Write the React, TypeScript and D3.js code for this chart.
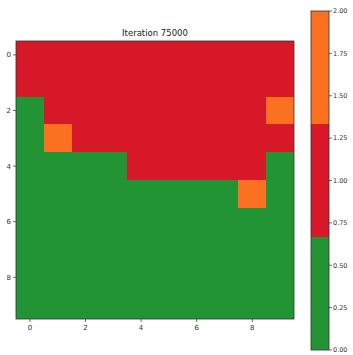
import React from 'react';
import * as d3 from 'd3';

// 0 = green, 1 = red, 2 = orange
const grid: number[][] = [
  [1, 1, 1, 1, 1, 1, 1, 1, 1, 1],
  [1, 1, 1, 1, 1, 1, 1, 1, 1, 1],
  [0, 1, 1, 1, 1, 1, 1, 1, 1, 2],
  [0, 2, 1, 1, 1, 1, 1, 1, 1, 1],
  [0, 0, 0, 0, 1, 1, 1, 1, 1, 0],
  [0, 0, 0, 0, 0, 0, 0, 0, 2, 0],
  [0, 0, 0, 0, 0, 0, 0, 0, 0, 0],
  [0, 0, 0, 0, 0, 0, 0, 0, 0, 0],
  [0, 0, 0, 0, 0, 0, 0, 0, 0, 0],
  [0, 0, 0, 0, 0, 0, 0, 0, 0, 0],
];
const palette = ['#229434', '#d61828', '#fc7022'];
const axisTicks = [0, 2, 4, 6, 8];
const cbTicks = [0, 0.25, 0.5, 0.75, 1, 1.25, 1.5, 1.75, 2];
const title = 'Iteration 75000';

const W = 353;
const H = 355;
const plot = { left: 16, top: 41, size: 278 };
const cb = { left: 311, top: 11, width: 18, bottom: 350 };

const App = () => {
  const x = d3.scaleLinear().domain([-0.5, 9.5]).range([plot.left, plot.left + plot.size]);
  const y = d3.scaleLinear().domain([-0.5, 9.5]).range([plot.top, plot.top + plot.size]);
  const color = d3.scaleQuantize<string>().domain([0, 2]).range(palette);
  const cbY = d3.scaleLinear().domain([0, 2]).range([cb.bottom, cb.top]);
  const cbBands = palette.map((c, i) => ({ c, lo: (i * 2) / 3, hi: ((i + 1) * 2) / 3 }));
  const font = 'DejaVu Sans, sans-serif';
  const tc = '#333';

  return (
    <svg width={W} height={H} style={{ position: 'absolute', left: 0, top: 0, background: '#fff' }}>
      <text x={x(4.5)} y={36} textAnchor="middle" fontFamily={font} fontSize={8.5} fill="#222">
        {title}
      </text>
      <g shapeRendering="crispEdges">
        {grid.map((row, r) =>
          row.map((v, c) => (
            <rect
              key={`${r}-${c}`}
              x={Math.round(x(c - 0.5))}
              y={Math.round(y(r - 0.5))}
              width={Math.round(x(c + 0.5)) - Math.round(x(c - 0.5))}
              height={Math.round(y(r + 0.5)) - Math.round(y(r - 0.5))}
              fill={color(v)}
            />
          ))
        )}
      </g>
      <rect x={plot.left} y={plot.top} width={plot.size} height={plot.size} fill="none" stroke={tc} strokeWidth={0.8} />
      {axisTicks.map((t) => (
        <g key={`y${t}`}>
          <line x1={plot.left} x2={plot.left - 3} y1={y(t)} y2={y(t)} stroke={tc} strokeWidth={0.7} />
          <text x={plot.left - 5} y={y(t)} dy="0.35em" textAnchor="end" fontFamily={font} fontSize={7} fill={tc}>
            {t}
          </text>
        </g>
      ))}
      {axisTicks.map((t) => (
        <g key={`x${t}`}>
          <line x1={x(t)} x2={x(t)} y1={plot.top + plot.size} y2={plot.top + plot.size + 3} stroke={tc} strokeWidth={0.7} />
          <text x={x(t)} y={plot.top + plot.size + 11} textAnchor="middle" fontFamily={font} fontSize={7} fill={tc}>
            {t}
          </text>
        </g>
      ))}
      <g shapeRendering="crispEdges">
        {cbBands.map((b) => (
          <rect
            key={b.c}
            x={cb.left}
            y={Math.round(cbY(b.hi))}
            width={cb.width}
            height={Math.round(cbY(b.lo)) - Math.round(cbY(b.hi))}
            fill={b.c}
          />
        ))}
      </g>
      <rect x={cb.left} y={cb.top} width={cb.width} height={cb.bottom - cb.top} fill="none" stroke={tc} strokeWidth={0.8} />
      {cbTicks.map((t) => (
        <g key={`c${t}`}>
          <line x1={cb.left + cb.width} x2={cb.left + cb.width + 3} y1={cbY(t)} y2={cbY(t)} stroke={tc} strokeWidth={0.7} />
          <text x={cb.left + cb.width + 4} y={cbY(t)} dy="0.35em" fontFamily={font} fontSize={6.5} fill={tc}>
            {t.toFixed(2)}
          </text>
        </g>
      ))}
    </svg>
  );
};

export default App;
